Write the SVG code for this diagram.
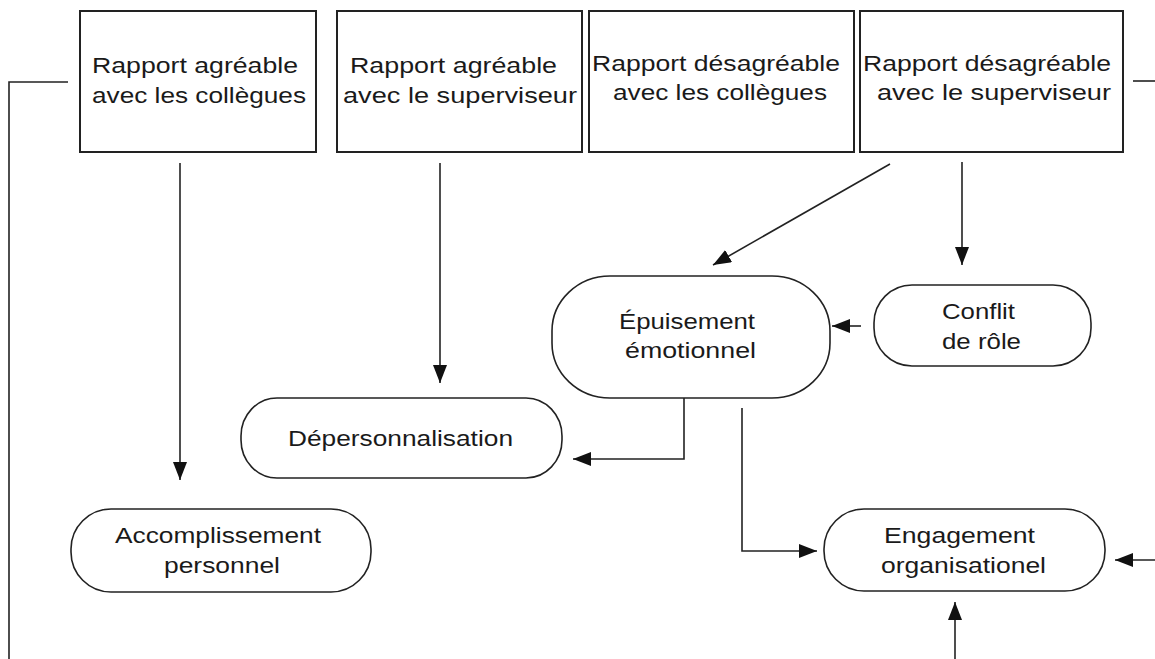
<svg xmlns="http://www.w3.org/2000/svg" width="1155" height="659" viewBox="0 0 1155 659">
<style>
.box{fill:#fff;stroke:#222;stroke-width:2}
.node{fill:#fff;stroke:#222;stroke-width:1.6}
.t{font-family:"Liberation Sans",Arial,sans-serif;font-size:22px;fill:#1a1a1a}
.c{fill:none;stroke:#222;stroke-width:1.6}
</style>
<defs>
<marker id="ah" markerUnits="userSpaceOnUse" markerWidth="18" markerHeight="14" refX="18" refY="7" orient="auto">
<path d="M0,0 L18,7 L0,14 z" fill="#111"/>
</marker>
</defs>
<rect width="1155" height="659" fill="#fff"/>

<g id="box1">
<rect class="box" x="80" y="11" width="236" height="141"/>
<text class="t" x="92" y="73" textLength="206" lengthAdjust="spacingAndGlyphs">Rapport agréable</text>
<text class="t" x="92" y="103" textLength="214" lengthAdjust="spacingAndGlyphs">avec les collègues</text>
</g>
<g id="box2">
<rect class="box" x="337" y="11" width="245" height="141"/>
<text class="t" x="350" y="73" textLength="207" lengthAdjust="spacingAndGlyphs">Rapport agréable</text>
<text class="t" x="343" y="103" textLength="234" lengthAdjust="spacingAndGlyphs">avec le superviseur</text>
</g>
<g id="box3">
<rect class="box" x="589" y="11" width="265" height="141"/>
<text class="t" x="592" y="71" textLength="248" lengthAdjust="spacingAndGlyphs">Rapport désagréable</text>
<text class="t" x="613" y="100" textLength="214" lengthAdjust="spacingAndGlyphs">avec les collègues</text>
</g>
<g id="box4">
<rect class="box" x="860" y="11" width="263" height="141"/>
<text class="t" x="863" y="71" textLength="248" lengthAdjust="spacingAndGlyphs">Rapport désagréable</text>
<text class="t" x="877" y="100" textLength="234" lengthAdjust="spacingAndGlyphs">avec le superviseur</text>
</g>

<g id="epuisement">
<rect class="node" x="552" y="276" width="278" height="122" rx="58" ry="55"/>
<text class="t" x="619" y="329" textLength="136" lengthAdjust="spacingAndGlyphs">Épuisement</text>
<text class="t" x="625" y="358" textLength="131" lengthAdjust="spacingAndGlyphs">émotionnel</text>
</g>
<g id="conflit">
<rect class="node" x="874" y="285" width="217" height="81" rx="38" ry="38"/>
<text class="t" x="942" y="319" textLength="73" lengthAdjust="spacingAndGlyphs">Conflit</text>
<text class="t" x="942" y="349" textLength="79" lengthAdjust="spacingAndGlyphs">de rôle</text>
</g>
<g id="depersonnalisation">
<rect class="node" x="241" y="398" width="321" height="80" rx="36" ry="38"/>
<text class="t" x="288" y="446" textLength="225" lengthAdjust="spacingAndGlyphs">Dépersonnalisation</text>
</g>
<g id="accomplissement">
<rect class="node" x="71" y="509" width="300" height="83" rx="40" ry="40"/>
<text class="t" x="115" y="543" textLength="206" lengthAdjust="spacingAndGlyphs">Accomplissement</text>
<text class="t" x="164" y="573" textLength="116" lengthAdjust="spacingAndGlyphs">personnel</text>
</g>
<g id="engagement">
<rect class="node" x="824" y="509" width="281" height="82" rx="40" ry="40"/>
<text class="t" x="884" y="543" textLength="151" lengthAdjust="spacingAndGlyphs">Engagement</text>
<text class="t" x="881" y="573" textLength="165" lengthAdjust="spacingAndGlyphs">organisationel</text>
</g>

<g id="connectors">
<path class="c" d="M68,82 H9 V659"/>
<path class="c" d="M1133,81 H1155"/>
<path class="c" d="M180,163 V480" marker-end="url(#ah)"/>
<path class="c" d="M440,163 V383" marker-end="url(#ah)"/>
<path class="c" d="M890,164 L713,265" marker-end="url(#ah)"/>
<path class="c" d="M962,162 V265" marker-end="url(#ah)"/>
<path class="c" d="M861,326 H832" marker-end="url(#ah)"/>
<path class="c" d="M684,398 V459 H573" marker-end="url(#ah)"/>
<path class="c" d="M742,408 V551 H817" marker-end="url(#ah)"/>
<path class="c" d="M1155,560 H1115" marker-end="url(#ah)"/>
<path class="c" d="M955,659 V602" marker-end="url(#ah)"/>
</g>
</svg>
